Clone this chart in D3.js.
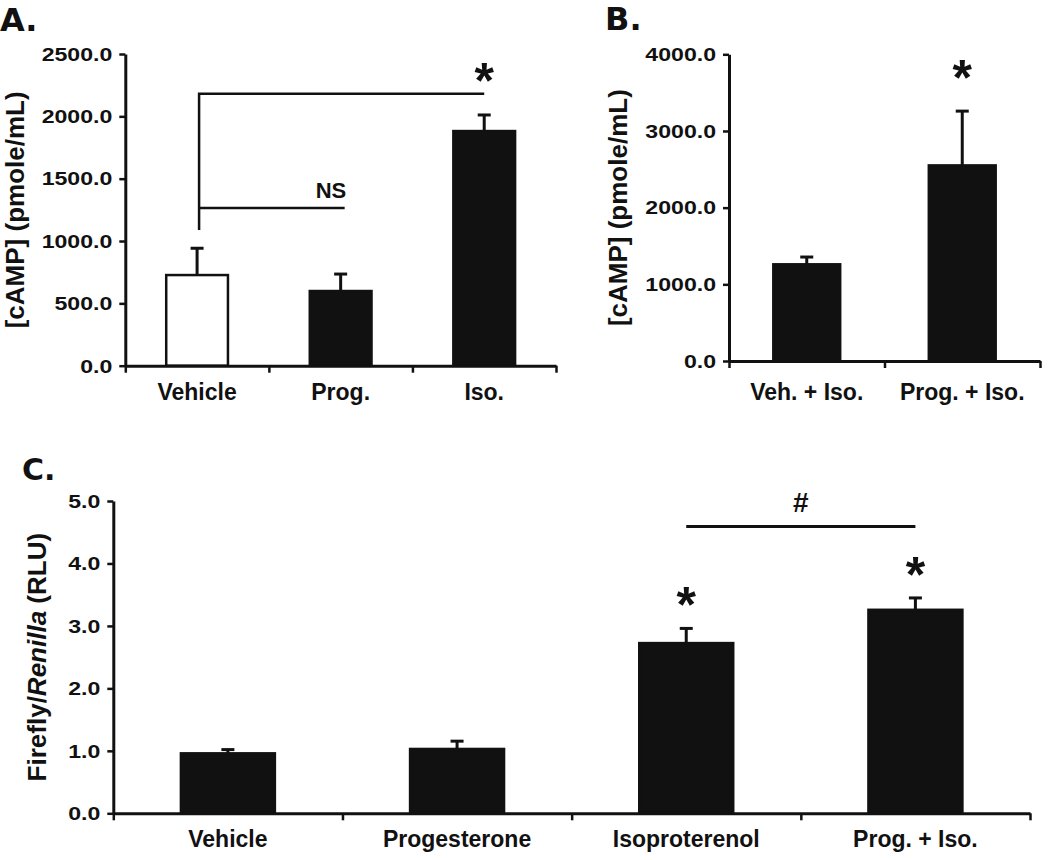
<!DOCTYPE html>
<html><head><meta charset="utf-8">
<script src="https://cdn.jsdelivr.net/npm/d3@7"></script>
<style>
body{margin:0;background:#fff;}
svg{display:block;}
.lbl{font-family:"Liberation Sans",Arial,sans-serif;font-weight:bold;fill:#111;}
</style></head>
<body>
<svg id="chart" width="1050" height="860"></svg>
<script>
// ---- Panel A data ----
const catsA = ["Vehicle", "Prog.", "Iso."];
const valsA = [727, 599, 1882];
const errsA = [215, 136, 129];
const fillsA = ["#fff", "#111", "#111"];
const ticksA = [0, 500, 1000, 1500, 2000, 2500];

// ---- Panel B data ----
const catsB = ["Veh. + Iso.", "Prog. + Iso."];
const valsB = [1261, 2551];
const errsB = [95, 708];
const ticksB = [0, 1000, 2000, 3000, 4000];

// ---- Panel C data ----
const catsC = ["Vehicle", "Progesterone", "Isoproterenol", "Prog. + Iso."];
const valsC = [0.96, 1.03, 2.725, 3.258];
const errsC = [0.06, 0.125, 0.235, 0.19];
const ticksC = [0, 1, 2, 3, 4, 5];

const svg = d3.select("#chart");
const INK = "#111";

function panel(o) {
  const g = svg.append("g");
  const x = d3.scaleBand().domain(o.cats).range(o.xr).paddingInner(o.pad).paddingOuter(o.pad / 2);
  const y = d3.scaleLinear().domain(o.yd).range(o.yr);
  // bars
  g.selectAll("rect.bar").data(o.cats).enter().append("rect")
    .attr("x", d => x(d)).attr("width", x.bandwidth())
    .attr("y", (d, i) => y(o.vals[i])).attr("height", (d, i) => y(0) - y(o.vals[i]))
    .attr("fill", (d, i) => o.fills ? o.fills[i] : INK)
    .attr("stroke", INK).attr("stroke-width", 2.5);
  // error bars (upper only)
  const eg = g.selectAll("g.err").data(o.cats).enter().append("g");
  eg.append("line")
    .attr("x1", d => x(d) + x.bandwidth() / 2).attr("x2", d => x(d) + x.bandwidth() / 2)
    .attr("y1", (d, i) => y(o.vals[i])).attr("y2", (d, i) => y(o.vals[i] + o.errs[i]))
    .attr("stroke", INK).attr("stroke-width", 3);
  eg.append("line")
    .attr("x1", d => x(d) + x.bandwidth() / 2 - 6.5).attr("x2", d => x(d) + x.bandwidth() / 2 + 6.5)
    .attr("y1", (d, i) => y(o.vals[i] + o.errs[i])).attr("y2", (d, i) => y(o.vals[i] + o.errs[i]))
    .attr("stroke", INK).attr("stroke-width", 3);
  // y axis
  const ya = g.append("g").attr("transform", `translate(${o.xr[0]},0)`)
    .call(d3.axisLeft(y).tickValues(o.ticks).tickFormat(d3.format(".1f")).tickSize(6).tickSizeOuter(0).tickPadding(7));
  ya.select(".domain").attr("stroke", INK).attr("stroke-width", 3);
  ya.selectAll(".tick line").attr("stroke", INK).attr("stroke-width", 2.5);
  ya.selectAll(".tick text").attr("dy", "0.36em")
    .style("font-family", "'Liberation Sans', Arial, sans-serif").style("font-weight", "bold")
    .style("font-size", "17.5px").style("fill", INK)
    .each(function () {
      const w = this.getComputedTextLength();
      d3.select(this).attr("textLength", w * 1.32).attr("lengthAdjust", "spacingAndGlyphs");
    });
  // x axis: ticks at band boundaries
  const xb = d3.scaleLinear().domain([0, o.cats.length]).range(o.xr);
  const xa = g.append("g").attr("transform", `translate(0,${y(0)})`)
    .call(d3.axisBottom(xb).tickValues(d3.range(o.cats.length + 1)).tickFormat("").tickSize(7).tickSizeOuter(0));
  xa.select(".domain").attr("stroke", INK).attr("stroke-width", 3);
  xa.selectAll(".tick line").attr("stroke", INK).attr("stroke-width", 2.5);
  // x labels
  g.selectAll("text.xl").data(o.cats).enter().append("text").attr("class", "lbl")
    .attr("x", d => x(d) + x.bandwidth() / 2).attr("y", o.xlY)
    .attr("text-anchor", "middle").attr("font-size", o.xlSize).text(d => d);
  // y title
  const t = g.append("text").attr("class", "lbl").attr("font-size", 26)
    .attr("text-anchor", "middle")
    .attr("transform", `translate(${o.titleX},${(o.yr[0] + o.yr[1]) / 2}) rotate(-90)`);
  o.title.forEach(p => t.append("tspan").attr("font-style", p.italic ? "italic" : "normal").text(p.t));
  // panel letter
  g.append("text").attr("x", o.letter[1]).attr("y", o.letter[2])
    .attr("font-family", "DejaVu Sans, sans-serif").attr("font-weight", "bold")
    .attr("font-size", o.letter[3]).attr("fill", INK).text(o.letter[0]);
  return {g, x, y, cx: c => x(c) + x.bandwidth() / 2};
}

function star(p, cat, v, size) {
  p.g.append("text").attr("class", "lbl").attr("x", p.cx(cat)).attr("y", p.y(v))
    .attr("dy", "0.57em").attr("text-anchor", "middle").attr("font-size", size).text("*");
}

// Panel A
const pA = panel({cats: catsA, vals: valsA, errs: errsA, fills: fillsA, ticks: ticksA,
  xr: [125.3, 556], yr: [365.7, 54], yd: [0, 2500], pad: 0.57, xlY: 400, xlSize: 23,
  title: [{t: "[cAMP] (pmole/mL)"}], titleX: 24, letter: ["A.", 0, 31, 32]});
// brackets A
const bA = pA.g.append("g").attr("stroke", INK).attr("stroke-width", 2.5).attr("fill", "none");
bA.append("path").attr("d", `M${pA.cx("Iso.")},${pA.y(2182)}H${pA.cx("Vehicle") + 2}V${pA.y(1088)}`);
bA.append("path").attr("d", `M${pA.cx("Vehicle") + 2},${pA.y(1265)}H${pA.cx("Prog.") + 4}`);
pA.g.append("text").attr("class", "lbl").attr("x", 331).attr("y", pA.y(1345))
  .attr("text-anchor", "middle").attr("font-size", 22).text("NS");
star(pA, "Iso.", 2372, 50);

// Panel B
const pB = panel({cats: catsB, vals: valsB, errs: errsB, ticks: ticksB,
  xr: [729, 1040], yr: [361, 54.3], yd: [0, 4000], pad: 0.57, xlY: 400, xlSize: 23,
  title: [{t: "[cAMP] (pmole/mL)"}], titleX: 627, letter: ["B.", 605, 30, 32]});
star(pB, "Prog. + Iso.", 3837, 50);

// Panel C
const pC = panel({cats: catsC, vals: valsC, errs: errsC, ticks: ticksC,
  xr: [113.3, 1030], yr: [813.3, 501], yd: [0, 5], pad: 0.59, xlY: 847, xlSize: 23,
  title: [{t: "Firefly/"}, {t: "Renilla", italic: true}, {t: " (RLU)"}], titleX: 46,
  letter: ["C.", 22, 480, 30]});
pC.g.append("line").attr("x1", pC.cx("Isoproterenol")).attr("x2", pC.cx("Prog. + Iso."))
  .attr("y1", pC.y(4.59)).attr("y2", pC.y(4.59)).attr("stroke", INK).attr("stroke-width", 3);
pC.g.append("text").attr("class", "lbl").attr("x", (pC.cx("Isoproterenol") + pC.cx("Prog. + Iso.")) / 2)
  .attr("y", pC.y(4.99)).attr("dy", "0.36em").attr("text-anchor", "middle").attr("font-size", 28).text("#");
star(pC, "Isoproterenol", 3.52, 50);
star(pC, "Prog. + Iso.", 4.0, 50);
</script>
</body></html>
